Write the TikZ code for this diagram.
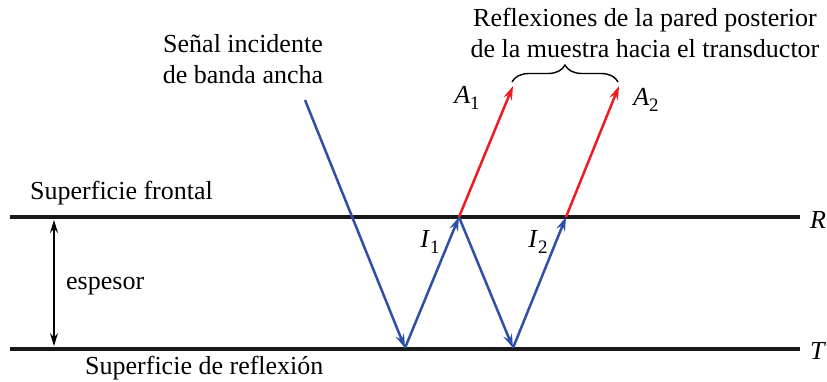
\documentclass[tikz,border=0pt]{standalone}
\usepackage{fontspec}
\setmainfont{Liberation Serif}
\usetikzlibrary{arrows.meta,decorations.pathreplacing,calc}
\definecolor{wblue}{RGB}{45,80,165}
\definecolor{wred}{RGB}{237,28,36}
\newcommand{\symsub}[2]{\textit{#1}\raisebox{-0.22em}{\fontsize{19}{20}\selectfont #2}}
\begin{document}
\begin{tikzpicture}[x=1pt,y=-1pt,
  lbl/.style={font=\fontsize{26}{31}\selectfont, inner sep=0pt},
  surf/.style={line width=4.5pt, black!90},
  ray/.style={line width=2.5pt, wblue},
  refl/.style={line width=2.5pt, wred},
  tip/.style={-{Stealth[length=14pt,width=9pt,inset=5pt]}}]
\useasboundingbox (0,0) rectangle (827,381);
% surfaces
\coordinate (RL) at (10,217); \coordinate (RR) at (800,217);
\coordinate (TL) at (10,349); \coordinate (TR) at (800,349);
\draw[surf] (RL) -- (RR);
\draw[surf] (TL) -- (TR);
\node[lbl] (R) at (818,220) {\textit{R}};
\node[lbl] (T) at (818,351) {\textit{T}};
\node[lbl, anchor=base west] (sf) at (30,199) {Superficie frontal};
\node[lbl, anchor=base west] (sr) at (85,374) {Superficie de reflexión};
\node[lbl, anchor=base west] (esp) at (66,289) {espesor};
% thickness arrow
\coordinate (e1) at (54,220); \coordinate (e2) at (54,346);
\draw[line width=1.8pt, {Stealth[length=13pt,width=8pt,inset=4.5pt]}-{Stealth[length=13pt,width=8pt,inset=4.5pt]}] (e1) -- (e2);
% ray points
\coordinate (S) at (305,100);
\coordinate (B1) at (405,348);
\coordinate (P1) at (459,217);
\coordinate (B2) at (513,348);
\coordinate (P2) at (566,217);
\coordinate (Q1) at (513,86);
\coordinate (Q2) at (619,86);
\draw[ray, tip] (S) -- (B1);
\draw[ray, tip] (B1) -- (P1);
\draw[ray, tip] (P1) -- (B2);
\draw[ray, tip] (B2) -- (P2);
\draw[refl, tip] (P1) -- (Q1);
\draw[refl, tip] (P2) -- (Q2);
% labels
\node[lbl] (A1) at (467,98) {\symsub{A}{1}};
\node[lbl] (A2) at (646,100) {\symsub{A}{2}};
\node[lbl] (I1) at (430,242) {\symsub{I}{1}};
\node[lbl] (I2) at (538,242) {\symsub{I}{2}};
\node[lbl, align=center] (inc) at (243,59) {Señal incidente\\de banda ancha};
\node[lbl, align=center] (ref) at (645,33) {Reflexiones de la pared posterior\\de la muestra hacia el transductor};
% brace
\coordinate (b1) at (512,82); \coordinate (b2) at (618,82);
\draw[line width=1.4pt, decorate, decoration={brace, amplitude=17pt}] (b1) -- (b2);
\end{tikzpicture}
\end{document}
